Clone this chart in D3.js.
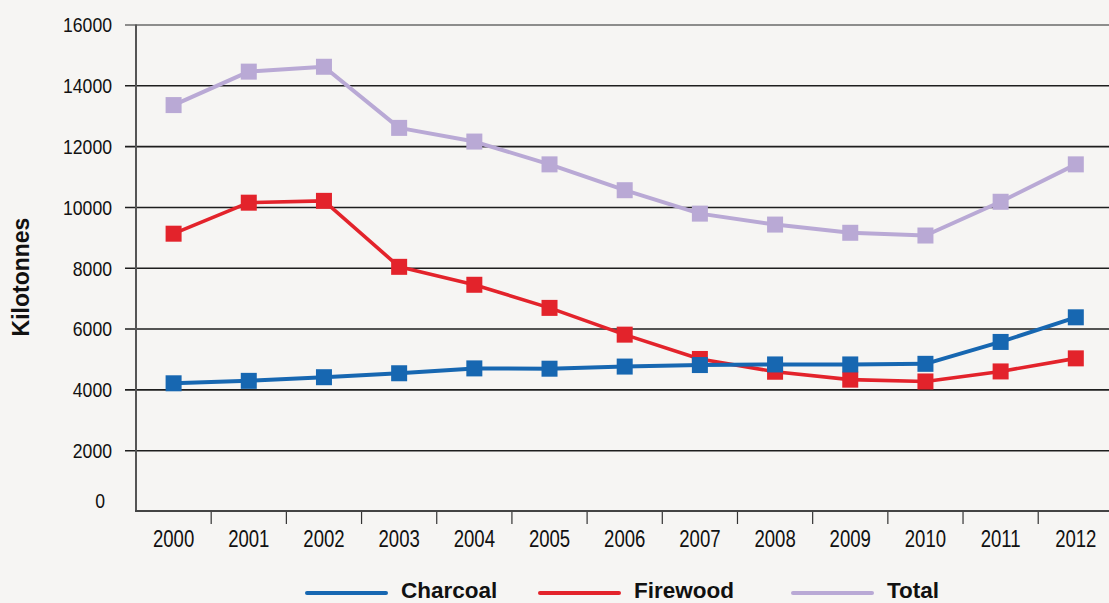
<!DOCTYPE html>
<html>
<head>
<meta charset="utf-8">
<script src="https://cdn.jsdelivr.net/npm/d3@7"></script>
<style>
  html, body { margin: 0; padding: 0; background: #f6f5f3; }
  svg { display: block; }
</style>
</head>
<body>
<svg id="chart" width="1109" height="603"></svg>
<script>
// Annual production, kilotonnes
const years = ["2000","2001","2002","2003","2004","2005","2006","2007","2008","2009","2010","2011","2012"];
const charcoal = [4200, 4280, 4400, 4530, 4690, 4680, 4750, 4800, 4820, 4820, 4840, 5560, 6370];
const firewood = [9120, 10140, 10200, 8030, 7440, 6680, 5800, 5000, 4580, 4320, 4260, 4590, 5020];
const total    = [13350, 14450, 14610, 12600, 12150, 11400, 10550, 9780, 9420, 9150, 9060, 10170, 11400];
const yTicks   = [0, 2000, 4000, 6000, 8000, 10000, 12000, 14000, 16000];
const seriesNames  = ["Charcoal", "Firewood", "Total"];
const seriesColors = ["#1767b1", "#e3232b", "#b9a9d5"];

const svg = d3.select("#chart");
const plotLeft = 136, plotRight = 1113.4, plotTop = 24.5, plotBottom = 511;
const tickFont = "'Liberation Sans', Arial, sans-serif";

const x = d3.scaleBand().domain(years).range([plotLeft, plotRight]).padding(0);
const y = d3.scaleLinear().domain([0, 16000]).range([plotBottom, plotTop]);

// Horizontal gridlines with condensed labels
const yScaleX = 0.84;
const yAxis = d3.axisLeft(y).tickValues(yTicks).tickSize(-(1109 - 125)).tickPadding(13).tickFormat(d3.format("d"));
const gy = svg.append("g").attr("transform", `translate(125,0)`).call(yAxis);
gy.select(".domain").remove();
gy.selectAll(".tick line")
  .attr("stroke", d => d === 16000 ? "#6a6a6a" : "#1e1e1e")
  .attr("stroke-width", 1.6)
  .attr("opacity", d => d === 0 ? 0 : 1);
gy.selectAll(".tick text")
  .attr("font-family", tickFont)
  .attr("font-size", 21)
  .attr("fill", "#111")
  .attr("transform", `scale(${yScaleX},1)`)
  .attr("x", d => (d === 0 ? -20 : -13) / yScaleX)
  .attr("dy", d => d === 0 ? "-0.19em" : "0.35em");

// Category axis with separators between years
const xScaleX = 0.79;
const xAxis = d3.axisBottom(x).tickSize(0).tickPadding(19);
const gx = svg.append("g").attr("transform", `translate(0,${plotBottom})`).call(xAxis);
gx.select(".domain").remove();
gx.selectAll(".tick text")
  .attr("font-family", tickFont)
  .attr("font-size", 23.5)
  .attr("fill", "#111")
  .attr("transform", `scale(${xScaleX},1)`);
svg.append("g").selectAll("line")
  .data(years.slice(1))
  .join("line")
  .attr("x1", d => x(d)).attr("x2", d => x(d))
  .attr("y1", plotBottom + 1).attr("y2", plotBottom + 13)
  .attr("stroke", "#333").attr("stroke-width", 1.2);

// Axis lines
svg.append("line").attr("x1", plotLeft).attr("x2", plotLeft).attr("y1", plotTop).attr("y2", plotBottom + 1)
  .attr("stroke", "#555").attr("stroke-width", 2);
svg.append("line").attr("x1", plotLeft - 1).attr("x2", 1109).attr("y1", plotBottom).attr("y2", plotBottom)
  .attr("stroke", "#444").attr("stroke-width", 2);

// Y axis title
svg.append("text")
  .attr("transform", "translate(29,277) rotate(-90)")
  .attr("text-anchor", "middle")
  .attr("font-family", "'Liberation Sans', Arial, sans-serif")
  .attr("font-weight", "bold")
  .attr("font-size", 23)
  .attr("fill", "#111")
  .text("Kilotonnes");

// Series: drawn back to front
const series = [
  { name: seriesNames[2], values: total,    color: seriesColors[2], width: 4 },
  { name: seriesNames[1], values: firewood, color: seriesColors[1], width: 3.6 },
  { name: seriesNames[0], values: charcoal, color: seriesColors[0], width: 4 }
];
const cx = d => x(d) + x.bandwidth() / 2;
const line = d3.line().x(d => cx(d.year)).y(d => y(d.value));
const marker = 16;

series.forEach(s => {
  const pts = years.map((yr, i) => ({ year: yr, value: s.values[i] }));
  const g = svg.append("g");
  g.append("path").datum(pts)
    .attr("d", line)
    .attr("fill", "none")
    .attr("stroke", s.color)
    .attr("stroke-width", s.width)
    .attr("stroke-linejoin", "round");
  g.selectAll("rect").data(pts).join("rect")
    .attr("x", d => cx(d.year) - marker / 2)
    .attr("y", d => y(d.value) - marker / 2)
    .attr("width", marker).attr("height", marker)
    .attr("fill", s.color);
});

// Legend
const legendX = [307, 540, 793];
const legend = svg.append("g").selectAll("g")
  .data(seriesNames.map((n, i) => ({ name: n, color: seriesColors[i], x: legendX[i] })))
  .join("g")
  .attr("transform", d => `translate(${d.x},593)`);
legend.append("line")
  .attr("x1", 0).attr("x2", 79).attr("y1", 0).attr("y2", 0)
  .attr("stroke", d => d.color).attr("stroke-width", 4).attr("stroke-linecap", "round");
legend.append("text")
  .attr("x", 94).attr("y", 5)
  .attr("font-family", "'Liberation Sans', Arial, sans-serif")
  .attr("font-weight", "bold")
  .attr("font-size", 22.5)
  .attr("fill", "#111")
  .text(d => d.name);
</script>
</body>
</html>
